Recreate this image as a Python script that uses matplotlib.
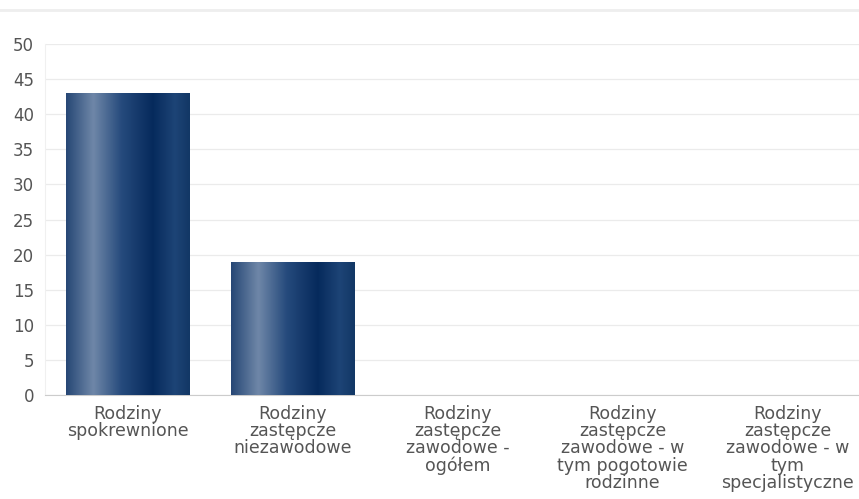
import numpy as np
import matplotlib.pyplot as plt
from matplotlib.colors import LinearSegmentedColormap
from matplotlib.lines import Line2D

categories = [
    "Rodziny\nspokrewnione",
    "Rodziny\nzastępcze\nniezawodowe",
    "Rodziny\nzastępcze\nzawodowe -\nogółem",
    "Rodziny\nzastępcze\nzawodowe - w\ntym pogotowie\nrodzinne",
    "Rodziny\nzastępcze\nzawodowe - w\ntym\nspecjalistyczne",
]
values = [43, 19, 0, 0, 0]
yticks = [0, 5, 10, 15, 20, 25, 30, 35, 40, 45, 50]

plt.rcParams['font.family'] = ['DejaVu Sans']

fig = plt.figure(figsize=(8.59, 4.99), dpi=100)
ax = fig.add_axes([0.0524, 0.2084, 0.9604, 0.7034])

# faint header line at the top
fig.add_artist(Line2D([0, 1], [0.979, 0.979], color='#eeeeee', lw=2))

x = np.arange(len(categories))
bars = ax.bar(x, values, width=0.75, color='none', edgecolor='none', zorder=3)

# horizontal metallic gradient inside each bar
grad = LinearSegmentedColormap.from_list('metal', [
    (0.00, '#264775'),
    (0.22, '#6f87a8'),
    (0.45, '#254a7c'),
    (0.70, '#062a5c'),
    (0.88, '#1d4476'),
    (1.00, '#123765'),
])
g = np.linspace(0, 1, 256).reshape(1, -1)
for b in bars:
    if b.get_height() <= 0:
        continue
    x0, w, h = b.get_x(), b.get_width(), b.get_height()
    im = ax.imshow(g, cmap=grad, aspect='auto', extent=[x0, x0 + w, 0, h],
                   zorder=3, interpolation='bicubic')
    im.set_clip_path(b)

ax.set_xlim(-0.5, len(categories) - 0.5)
ax.set_ylim(0, 50)
ax.set_yticks(yticks)
ax.set_xticks(x)
ax.set_xticklabels(categories, fontsize=12.5, color='#555555', linespacing=0.95)
ax.tick_params(axis='y', labelsize=12, labelcolor='#555555', length=0, pad=8)
ax.tick_params(axis='x', length=0, pad=7)
ax.grid(axis='y', color='#ebebeb', lw=0.9, zorder=0)
ax.set_axisbelow(True)
for s in ['top', 'right']:
    ax.spines[s].set_visible(False)
ax.spines['left'].set_color('#f0f0f0')
ax.spines['bottom'].set_color('#cccccc')

fig.savefig('out.png', dpi=100)
